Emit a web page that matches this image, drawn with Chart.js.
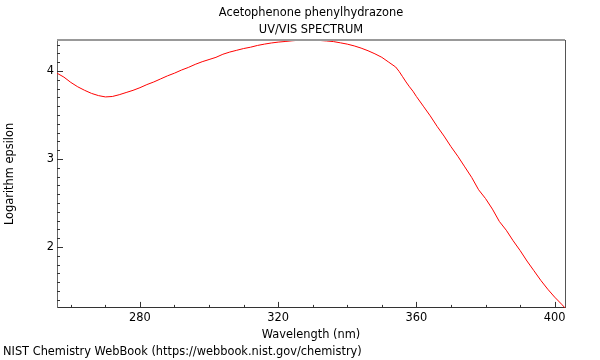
<!DOCTYPE html>
<html>
<head>
<meta charset="utf-8">
<script src="https://cdn.jsdelivr.net/npm/chart.js@4"></script>
<style>
  body { margin: 0; background: #fff; }
</style>
</head>
<body>
<canvas id="spectrum" width="600" height="360"></canvas>
<script>
// wavelength (nm) and log(epsilon)
const wavelengths = [256, 258, 260, 262, 264, 266, 268, 270, 272, 274, 276, 278, 280, 282, 284, 286, 288, 290,
    292, 294, 296, 298, 300, 302, 304, 306, 308, 310, 312, 314, 316, 318, 320, 322, 324, 326, 328, 330,
    332, 334, 336, 338, 340, 342, 344, 346, 348, 350, 352, 354, 355, 356, 357, 358, 359, 360, 362, 364,
    366, 368, 370, 372, 374, 376, 378, 380, 382, 384, 386, 388, 390, 392, 394, 396, 398, 400, 402, 403];
const logEpsilon = [3.975, 3.93, 3.87, 3.82, 3.78, 3.745, 3.72, 3.705, 3.71, 3.73, 3.755, 3.78, 3.81, 3.845, 3.875, 3.91, 3.945, 3.975,
    4.01, 4.04, 4.075, 4.105, 4.13, 4.155, 4.19, 4.215, 4.235, 4.255, 4.27, 4.29, 4.305, 4.318, 4.328, 4.335, 4.343, 4.349, 4.352, 4.35,
    4.347, 4.341, 4.334, 4.32, 4.305, 4.285, 4.26, 4.23, 4.195, 4.155, 4.1, 4.045, 3.995, 3.935, 3.875, 3.82, 3.77, 3.71, 3.6, 3.49,
    3.37, 3.26, 3.14, 3.03, 2.91, 2.79, 2.65, 2.55, 2.43, 2.29, 2.19, 2.07, 1.96, 1.84, 1.73, 1.62, 1.52, 1.43, 1.35, 1.307];

const xTickLabels = [280, 320, 360, 400];
const yTickLabels = [2, 3, 4];

const FONT = "'DejaVu Sans', sans-serif";
const SIZE = 11.4;

const points = wavelengths.map((w, i) => ({ x: w, y: logEpsilon[i] }));

// inward tick marks + top/right frame, like the NIST plots
const frameTicks = {
    id: 'frameTicks',
    afterDraw(chart) {
        const { ctx, chartArea: a, scales: { x, y } } = chart;
        ctx.save();
        ctx.lineWidth = 1;
        ctx.strokeStyle = '#333';
        ctx.beginPath();
        for (let v = 260; v <= 400; v += 10) {
            const px = Math.round(x.getPixelForValue(v)) + 0.5;
            const len = xTickLabels.includes(v) ? 6 : 3;
            ctx.moveTo(px, a.bottom);
            ctx.lineTo(px, a.bottom - len);
        }
        for (let k = 14; k <= 43; k++) {
            const v = k / 10;
            const py = Math.round(y.getPixelForValue(v)) + 0.5;
            const len = (k % 10 === 0) ? 6 : 3;
            ctx.moveTo(a.left, py);
            ctx.lineTo(a.left + len, py);
        }
        ctx.stroke();

        ctx.strokeStyle = '#999';
        ctx.lineWidth = 2;
        ctx.beginPath();
        ctx.moveTo(a.left, a.top);
        ctx.lineTo(a.right, a.top);
        ctx.stroke();
        ctx.strokeStyle = '#555';
        ctx.lineWidth = 1;
        ctx.beginPath();
        ctx.moveTo(a.right + 0.5, a.top);
        ctx.lineTo(a.right + 0.5, a.bottom);
        ctx.stroke();
        ctx.restore();
    }
};

new Chart(document.getElementById('spectrum'), {
    type: 'line',
    data: {
        datasets: [{
            data: points,
            borderColor: '#ff0000',
            borderWidth: 1,
            pointRadius: 0,
            tension: 0,
            fill: false
        }]
    },
    options: {
        responsive: false,
        animation: false,
        layout: { padding: { left: 3, right: 35, top: 0, bottom: 0 } },
        plugins: {
            legend: { display: false },
            tooltip: { enabled: false },
            title: {
                display: true,
                fullSize: false,
                text: ['Acetophenone phenylhydrazone', 'UV/VIS SPECTRUM'],
                color: '#000',
                font: { family: FONT, size: SIZE, weight: 'normal', lineHeight: 17 / SIZE },
                padding: { top: 4.5, bottom: 1.5 }
            },
            subtitle: {
                display: true,
                position: 'bottom',
                align: 'start',
                text: 'NIST Chemistry WebBook (https://webbook.nist.gov/chemistry)',
                color: '#000',
                font: { family: FONT, size: SIZE, weight: 'normal', lineHeight: 1.2 },
                padding: { top: 3.2, bottom: 1.2 }
            }
        },
        scales: {
            x: {
                type: 'linear',
                min: 256,
                max: 403,
                grid: { display: false, drawTicks: false },
                border: { display: true, color: '#333', width: 1 },
                afterBuildTicks: (scale) => { scale.ticks = xTickLabels.map(v => ({ value: v })); },
                afterFit: (scale) => { scale.height = 34; },
                ticks: { color: '#000', padding: 3, maxRotation: 0, font: { family: FONT, size: SIZE } },
                title: {
                    display: true,
                    text: 'Wavelength (nm)',
                    color: '#000',
                    font: { family: FONT, size: SIZE },
                    padding: { top: 3.2, bottom: 0 }
                }
            },
            y: {
                min: 1.307,
                max: 4.352,
                grid: { display: false, drawTicks: false },
                border: { display: true, color: '#666', width: 1 },
                afterBuildTicks: (scale) => { scale.ticks = yTickLabels.map(v => ({ value: v })); },
                afterFit: (scale) => { scale.width = 54; },
                ticks: { color: '#000', padding: 3, font: { family: FONT, size: SIZE } },
                title: {
                    display: true,
                    text: 'Logarithm epsilon',
                    color: '#000',
                    font: { family: FONT, size: SIZE },
                    padding: { top: 0.5, bottom: 0 }
                }
            }
        }
    },
    plugins: [frameTicks]
});
</script>
</body>
</html>
